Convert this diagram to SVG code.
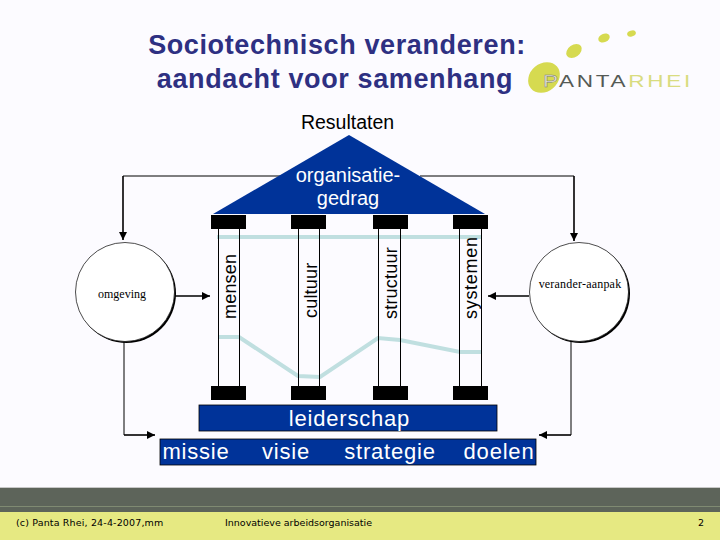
<svg xmlns="http://www.w3.org/2000/svg" width="720" height="540" viewBox="0 0 720 540">
<style>
text{font-family:"Liberation Sans",Arial,sans-serif}
.title{font-size:27px;font-weight:bold;fill:#2e3082;text-anchor:middle;letter-spacing:.62px}
.w{fill:#fff;font-size:22px;text-anchor:middle;letter-spacing:.8px}
.r{fill:#fff;font-size:20px;text-anchor:middle}
.v{fill:#000;font-size:18px;letter-spacing:.2px}
.c{fill:#000;font-family:"Liberation Serif",serif;font-size:12px;text-anchor:middle}
.f{fill:#000;font-family:"DejaVu Sans",sans-serif;font-size:9.5px}
.l{fill:none;stroke:#000;stroke-width:1}
.a{fill:none;stroke:#000;stroke-width:1.6}
.t{fill:none;stroke:#000;stroke-width:1}
.b{fill:#000}
.blue{fill:#003399;stroke:#000;stroke-width:.8}
.band{fill:none;stroke:#c0dfe0;stroke-width:4}
.dot{fill:#d6da50}
</style>
<defs><marker id="ah" markerWidth="9" markerHeight="9" refX="8" refY="4" orient="auto" markerUnits="userSpaceOnUse"><path d="M0 0L8 4L0 8z" fill="#000"/></marker></defs>
<rect width="720" height="540" fill="#fcfbff"/>
<g id="title"><text class="title" x="337" y="54">Sociotechnisch veranderen:</text><text class="title" x="335" y="88">aandacht voor samenhang</text></g>
<g id="logo">
<ellipse class="dot" cx="544" cy="77.500" rx="17" ry="14" transform="rotate(-40 544 77.500)"/>
<ellipse class="dot" cx="574" cy="51" rx="8.500" ry="6" transform="rotate(-35 574 51)"/>
<ellipse class="dot" cx="604" cy="38" rx="6" ry="4.200" transform="rotate(-25 604 38)"/>
<ellipse class="dot" cx="631.500" cy="33.500" rx="4.500" ry="3" transform="rotate(-20 631.500 33.500)"/>
<text x="543" y="87" font-size="16.500" textLength="150" lengthAdjust="spacingAndGlyphs" letter-spacing="2"><tspan fill="#e6e6da" stroke="#777" stroke-width=".4">P</tspan><tspan fill="#555a55">ANTA</tspan><tspan fill="#d9dc80">RHEI</tspan></text>
</g>
<g id="resultaten"><text x="347.500" y="129" font-size="19.500" text-anchor="middle" fill="#000">Resultaten</text></g>
<g id="connectors">
<path class="t" d="M280 176H123"/><path class="a" d="M123 176V240" marker-end="url(#ah)"/>
<path class="t" d="M420 176H574"/><path class="a" d="M574 176V241" marker-end="url(#ah)"/>
<path class="a" d="M175 296H210" marker-end="url(#ah)"/>
<path class="a" d="M529 296H488" marker-end="url(#ah)"/>
<path class="t" d="M124 341V435"/><path class="a" d="M124 435H155" marker-end="url(#ah)"/>
<path class="t" d="M571 341V435"/><path class="a" d="M571 435H539" marker-end="url(#ah)"/>
</g>
<g id="roof"><path d="M213 214L349 135L485 214z" fill="#003399"/><text class="r" x="348" y="182">organisatie-</text><text class="r" x="348" y="205">gedrag</text></g>
<g id="bands"><path class="band" d="M217 237H482"/><path class="band" d="M218 337H239L298 376L320 377L378 338L400 340L460 352L482 352"/></g>
<g id="mensen"><path class="l" d="M218.500 229V386M239.500 229V386"/><rect class="b" x="211" y="215" width="35" height="14"/><rect class="b" x="211" y="386" width="35" height="14"/><text class="v" transform="translate(236 319) rotate(-90)">mensen</text></g>
<g id="cultuur"><path class="l" d="M298.500 229V386M319.500 229V386"/><rect class="b" x="291" y="215" width="35" height="14"/><rect class="b" x="291" y="386" width="35" height="14"/><text class="v" transform="translate(317 318) rotate(-90)">cultuur</text></g>
<g id="structuur"><path class="l" d="M378.500 229V386M400.500 229V386"/><rect class="b" x="373" y="215" width="35" height="14"/><rect class="b" x="373" y="386" width="35" height="14"/><text class="v" transform="translate(397 319) rotate(-90)">structuur</text></g>
<g id="systemen"><path class="l" d="M459.500 229V386M481.500 229V386"/><rect class="b" x="453" y="215" width="35" height="14"/><rect class="b" x="453" y="386" width="35" height="14"/><text class="v" style="letter-spacing:.7px" transform="translate(477 319) rotate(-90)">systemen</text></g>
<g id="omgeving"><circle cx="126.500" cy="293.500" r="49.500" fill="#000"/><circle cx="125" cy="292" r="49.500" fill="#fff" stroke="#000" stroke-width=".7"/><text class="c" x="122" y="298">omgeving</text></g>
<g id="verander-aanpak"><circle cx="580.500" cy="293.500" r="49.500" fill="#000"/><circle cx="579" cy="292" r="49.500" fill="#fff" stroke="#000" stroke-width=".7"/><text class="c" x="580" y="288" style="letter-spacing:.2px">verander-aanpak</text></g>
<g id="leiderschap"><rect class="blue" x="199" y="405" width="298" height="26"/><text class="w" x="349.500" y="426">leiderschap</text></g>
<g id="waarden"><rect class="blue" x="160" y="439" width="376" height="26"/><text class="w" x="196" y="459">missie</text><text class="w" x="286" y="459">visie</text><text class="w" x="390" y="459">strategie</text><text class="w" x="499" y="459">doelen</text></g>
<g id="footer"><rect y="487" width="720" height="1" fill="#c8c8c8"/><rect y="488" width="720" height="24" fill="#5d645a"/><rect y="506" width="720" height="1" fill="#7f8a72"/><rect y="512" width="720" height="28" fill="#e6e982"/>
<text class="f" x="16" y="526" style="letter-spacing:.15px">(c) Panta Rhei, 24-4-2007,mm</text><text class="f" x="225" y="526">Innovatieve arbeidsorganisatie</text><text class="f" x="698" y="526">2</text></g>
</svg>
